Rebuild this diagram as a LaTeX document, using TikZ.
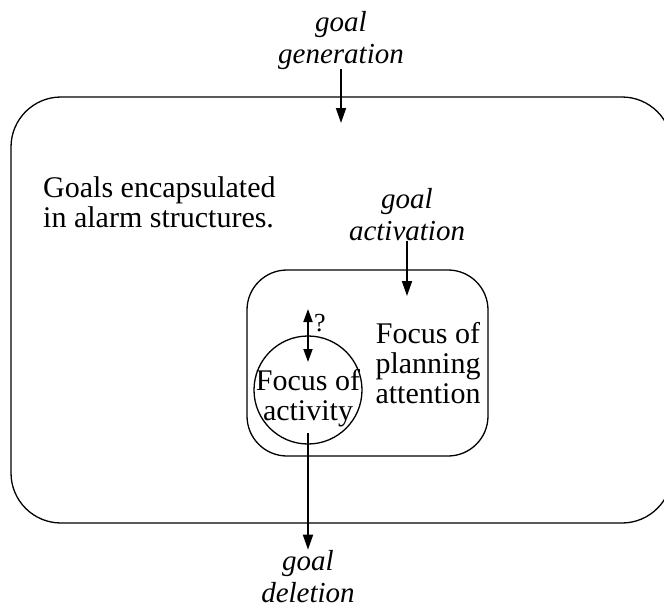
\documentclass[tikz,border=0pt]{standalone}
\usepackage{fontspec}
\setmainfont{Liberation Serif}
\usetikzlibrary{arrows.meta}
\tikzset{
  txt/.style={inner sep=0pt, font=\fontsize{30}{30}\selectfont},
  lbl/.style={txt, align=center, font=\fontsize{29}{32}\selectfont\itshape},
  region/.style={draw, line width=1.3pt, inner sep=0pt},
  flow/.style={line width=1.8pt, -{Triangle[length=15pt,width=10pt]}},
  bothflow/.style={line width=1.8pt, {Triangle[length=13pt,width=9pt]}-{Triangle[length=13pt,width=9pt]}},
}
\begin{document}
\begin{tikzpicture}[x=1pt,y=-1pt]
\useasboundingbox (0,0) rectangle (664,608);
\begin{scope}
\clip (0,0) rectangle (664,608);
% outer store of goals
\node[region, rounded corners=50pt, minimum width=661pt, minimum height=426pt] (outer) at (341.5,310) {};
\end{scope}
% planning focus and activity focus
\node[region, rounded corners=40pt, minimum width=241pt, minimum height=186pt] (inner) at (367.5,363) {};
\node[region, circle, minimum size=108pt] (focus) at (308,390) {};

% texts (base anchor sits on the last line)
\node[txt, align=left, anchor=base west] (goals) at (43,227) {Goals encapsulated\\in alarm structures.};
\node[txt, align=center, anchor=base] (plan) at (428,403) {Focus of\\planning\\attention};
\node[txt, align=center, anchor=base] (act) at (308,420) {Focus of\\activity};

\node[lbl, anchor=base] (gen) at (341,63) {goal\\generation};
\node[lbl, anchor=base] (actv) at (407,240) {goal\\activation};
\node[lbl, anchor=base] (del) at (308,602) {goal\\deletion};
\node[txt, font=\fontsize{26}{26}\selectfont] (q) at (320,323) {?};

% arrow ends
\coordinate (genTip) at (341,123);
\coordinate (actTip) at (407,296);
\coordinate (qTop) at (308,309);
\coordinate (qBot) at (308,362);
\coordinate (delStart) at (308,433);

\draw[flow] (gen.south) -- (genTip);
\draw[flow] (actv.south) -- (actTip);
\draw[bothflow] (qTop) -- (qBot);
\draw[flow] (delStart) -- (del.north);
\end{tikzpicture}
\end{document}
